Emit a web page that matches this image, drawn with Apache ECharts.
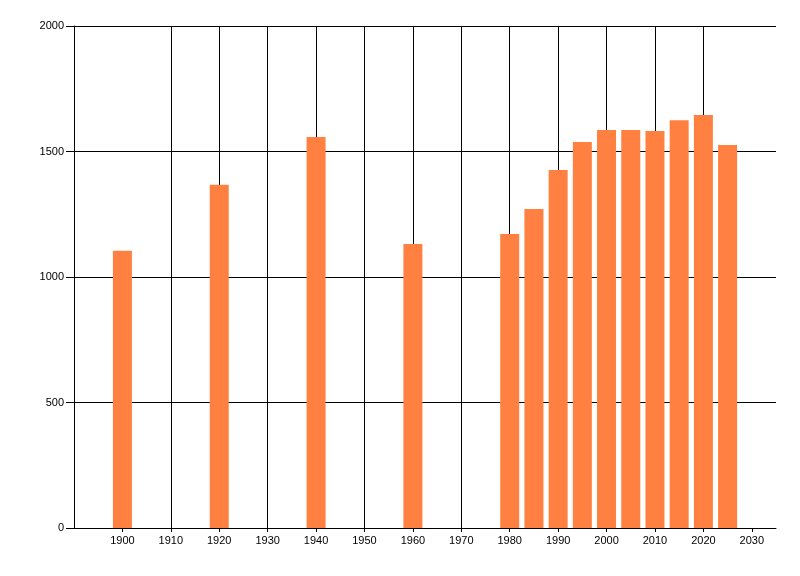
<!DOCTYPE html>
<html>
<head>
<meta charset="utf-8">
<style>
  html, body { margin: 0; padding: 0; background: #ffffff; }
  #chart { width: 800px; height: 576px; }
</style>
<script src="https://cdn.jsdelivr.net/npm/echarts@6/dist/echarts.min.js"></script>
</head>
<body>
<div id="chart"></div>
<script>
const years = [1900, 1920, 1940, 1960, 1980, 1985, 1990, 1995, 2000, 2005, 2010, 2015, 2020, 2025];
const population = [1105, 1368, 1558, 1131, 1171, 1271, 1426, 1538, 1586, 1586, 1582, 1625, 1645, 1526];
const xTickLabels = [1900, 1910, 1920, 1930, 1940, 1950, 1960, 1970, 1980, 1990, 2000, 2010, 2020, 2030];
const yTickLabels = [0, 500, 1000, 1500, 2000];

const BAR_COLOR = "#FF8040";
const LABEL_STYLE = { color: "#000000", fontFamily: "Liberation Sans", fontSize: 11 };

const chart = echarts.init(document.getElementById("chart"));

chart.setOption({
  backgroundColor: "#ffffff",
  animation: false,
  grid: { left: 74, top: 26, right: 24, bottom: 48, containLabel: false },
  xAxis: {
    type: "value",
    min: 1890,
    max: 2035,
    interval: 10,
    axisLine: { show: true, lineStyle: { color: "#000000", width: 1 } },
    axisTick: { show: true, length: 4, customValues: xTickLabels, lineStyle: { color: "#000000" } },
    axisLabel: { ...LABEL_STYLE, margin: 7, customValues: xTickLabels, formatter: v => String(v) },
    splitLine: { show: true, showMinLine: false, showMaxLine: false, lineStyle: { color: "#000000", width: 1 } }
  },
  yAxis: {
    type: "value",
    min: 0,
    max: 2000,
    interval: 500,
    axisLine: { show: true, lineStyle: { color: "#000000", width: 1 } },
    axisTick: { show: true, length: 8, customValues: yTickLabels, lineStyle: { color: "#000000" } },
    axisLabel: { ...LABEL_STYLE, margin: 10, customValues: yTickLabels, formatter: v => String(v) },
    splitLine: { show: true, showMinLine: false, lineStyle: { color: "#000000", width: 1 } }
  },
  series: [{
    type: "bar",
    barWidth: 19,
    itemStyle: { color: BAR_COLOR },
    data: years.map((y, i) => [y, population[i]])
  }]
});
</script>
</body>
</html>
